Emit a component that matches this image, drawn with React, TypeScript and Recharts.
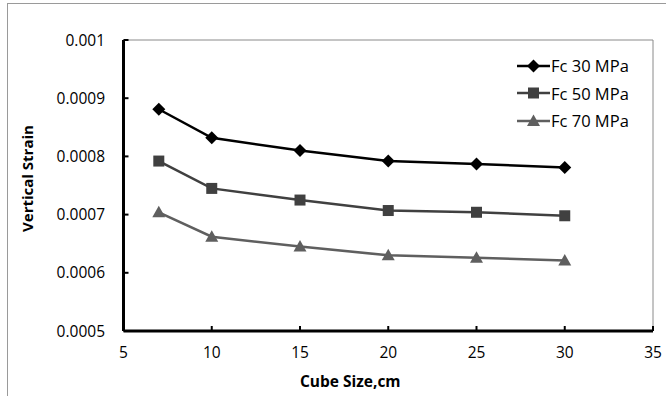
import React from "react";
import { Line, LineChart, ReferenceLine, XAxis, YAxis } from "recharts";

const cubeSizes = [7, 10, 15, 20, 25, 30];
const fc30 = [0.000881, 0.000832, 0.00081, 0.000792, 0.000787, 0.000781];
const fc50 = [0.000792, 0.000745, 0.000725, 0.000707, 0.000704, 0.000698];
const fc70 = [0.000704, 0.000662, 0.000645, 0.00063, 0.000626, 0.000621];
const xTicks = [5, 10, 15, 20, 25, 30, 35];
const yTicks = [0.0005, 0.0006, 0.0007, 0.0008, 0.0009, 0.001];

const data = cubeSizes.map((size, i) => ({ size, fc30: fc30[i], fc50: fc50[i], fc70: fc70[i] }));

const series = [
  { key: "fc30", name: "Fc 30 MPa", color: "#000000", shape: "diamond" },
  { key: "fc50", name: "Fc 50 MPa", color: "#404040", shape: "square" },
  { key: "fc70", name: "Fc 70 MPa", color: "#5f5f5f", shape: "triangle" },
];

const FONT = "'Open Sans', 'Noto Sans', sans-serif";

function Marker({ cx, cy, shape, color }: any) {
  if (cx == null || cy == null) return null;
  if (shape === "diamond") {
    return <polygon points={`${cx},${cy - 6.5} ${cx + 6.5},${cy} ${cx},${cy + 6.5} ${cx - 6.5},${cy}`} fill={color} />;
  }
  if (shape === "square") {
    return <rect x={cx - 5.5} y={cy - 5.5} width={11} height={11} fill={color} />;
  }
  return <polygon points={`${cx},${cy - 6.5} ${cx + 6.5},${cy + 5} ${cx - 6.5},${cy + 5}`} fill={color} />;
}

function LegendBox() {
  return (
    <div style={{ position: "absolute", left: 517, top: 52, fontFamily: FONT, fontSize: 16.5, color: "#000" }}>
      {series.map((s) => (
        <div key={s.key} style={{ display: "flex", alignItems: "center", height: 27.5 }}>
          <svg width={33} height={16} style={{ display: "block" }}>
            <line x1={0} y1={8} x2={33} y2={8} stroke={s.color} strokeWidth={2.5} />
            <Marker cx={16.5} cy={8} shape={s.shape} color={s.color} />
          </svg>
          <span style={{ marginLeft: 1 }}>{s.name}</span>
        </div>
      ))}
    </div>
  );
}

export default function App() {
  return (
    <div style={{ position: "absolute", left: 0, top: 0, width: 666, height: 396, background: "#fff", overflow: "hidden" }}>
      <div style={{ position: "absolute", left: 7, top: 3, width: 700, height: 420, borderLeft: "1px solid #9a9a9a", borderTop: "1px solid #9a9a9a" }} />
      <div style={{ position: "absolute", left: 0, top: 0 }}>
        <LineChart
          width={666}
          height={396}
          data={data}
          margin={{ top: 40, right: 13, bottom: 0, left: 8 }}
          style={{ fontFamily: FONT }}
        >
          <ReferenceLine y={0.001} stroke="#8a8a8a" strokeWidth={1} />
          <ReferenceLine x={35} stroke="#8a8a8a" strokeWidth={1} />
          <XAxis
            dataKey="size"
            type="number"
            domain={[5, 35]}
            ticks={xTicks}
            height={65}
            axisLine={{ stroke: "#000", strokeWidth: 3 }}
            tickLine={{ stroke: "#000", strokeWidth: 2 }}
            tickSize={-5}
            tickMargin={21}
            tick={{ fill: "#000", fontSize: 15.5, fontFamily: FONT }}
            interval={0}
            label={{
              content: (props: any) => {
                const vb = props.viewBox;
                return (
                  <text x={vb.x + vb.width / 2 - 38} y={vb.y + 56} textAnchor="middle" fontWeight="bold" fontSize={15.5} fontFamily={FONT} fill="#000">
                    Cube Size,cm
                  </text>
                );
              },
            }}
          />
          <YAxis
            type="number"
            domain={[0.0005, 0.001]}
            ticks={yTicks}
            width={115.5}
            axisLine={{ stroke: "#000", strokeWidth: 3 }}
            tickLine={{ stroke: "#000", strokeWidth: 2 }}
            tickSize={-5}
            tickMargin={23.5}
            tick={{ fill: "#000", fontSize: 15.5, fontFamily: FONT }}
            interval={0}
            tickFormatter={(v: number) => String(v)}
            label={{
              content: (props: any) => {
                const vb = props.viewBox;
                const x = vb.x + 19;
                const y = vb.y + vb.height / 2 - 7;
                return (
                  <text x={x} y={y} transform={`rotate(-90, ${x}, ${y})`} textAnchor="middle" dominantBaseline="central" fontWeight="bold" fontSize={15} fontFamily={FONT} fill="#000">
                    Vertical Strain
                  </text>
                );
              },
            }}
          />
          {series.map((s) => (
            <Line
              key={s.key}
              dataKey={s.key}
              name={s.name}
              stroke={s.color}
              strokeWidth={2.5}
              isAnimationActive={false}
              dot={(p: any) => <Marker key={`${s.key}-${p.index}`} cx={p.cx} cy={p.cy} shape={s.shape} color={s.color} />}
              activeDot={false}
            />
          ))}
        </LineChart>
      </div>
      <LegendBox />
    </div>
  );
}
